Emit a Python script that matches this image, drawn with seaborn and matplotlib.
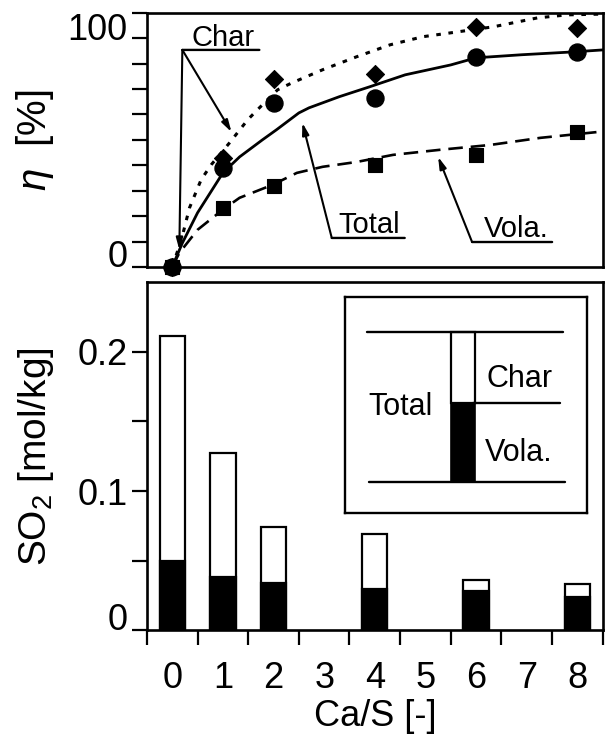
import numpy as np
import pandas as pd
import matplotlib
matplotlib.use('Agg')
import matplotlib.pyplot as plt
import seaborn as sns

# Ca/S ratio of the measured points
ca_s = [0, 1, 2, 4, 6, 8]
# desulfurization efficiency [%]
eta_char = [0, 43, 74, 76, 94.5, 94]
eta_total = [0, 39, 64.5, 66.5, 82.5, 84.5]
eta_vola = [0, 23, 32, 40, 44, 53]

# fitted curves
fit_x_total = [0, 0.2, 0.5, 1.0, 1.33, 1.78, 2.06, 2.5, 2.7, 3.3, 3.9, 4.6, 5.5, 6.0, 6.9, 7.9, 8.5]
fit_total = [0, 9.4, 21.3, 37, 43.3, 50, 54, 60.6, 62.6, 67, 70.9, 75.6, 79.5, 82.3, 83.5, 84.6, 85.4]
fit_x_char = [0, 0.18, 0.34, 0.57, 0.77, 1.13, 1.49, 1.68, 2.08, 2.36, 2.97, 3.64, 4.3, 4.95, 5.49, 6.34, 7.21, 7.8, 8.5]
fit_char = [0, 10.6, 23.2, 34.3, 40.2, 48.8, 57.9, 61.8, 69.7, 72.4, 77.6, 82.7, 87.4, 90.6, 92.1, 94.5, 98, 99.2, 99.5]
fit_x_vola = [0, 0.14, 0.5, 0.99, 1.33, 1.98, 2.46, 2.97, 3.64, 4.36, 5.29, 6.28, 7.27, 8.5]
fit_vola = [0, 5.5, 14.6, 22.4, 27.2, 32.3, 37, 39.4, 41.3, 44.1, 46.1, 48, 50.8, 53.3]

# SO2 emission [mol/kg]
bar_cats = ['0', '1', '2', '4', '6', '8']
cat_order = [str(i) for i in range(9)]
so2_total = [0.211, 0.127, 0.074, 0.069, 0.036, 0.033]
so2_vola = [0.050, 0.038, 0.034, 0.030, 0.028, 0.024]

# legend key bar (schematic)
key_vola = [0.365]
key_char = [0.329]

sns.set_style('ticks')
plt.rcParams['font.family'] = ['Liberation Sans', 'DejaVu Sans']
plt.rcParams['mathtext.fontset'] = 'custom'
plt.rcParams['mathtext.rm'] = 'Liberation Sans'
plt.rcParams['mathtext.it'] = 'Liberation Sans:italic'
plt.rcParams['axes.linewidth'] = 1.9
for k in ['axes.edgecolor', 'text.color', 'axes.labelcolor', 'xtick.color', 'ytick.color']:
    plt.rcParams[k] = 'black'

fig = plt.figure(figsize=(6.07, 7.54), dpi=100)
ax1 = fig.add_axes([0.242, 0.646, 0.751, 0.337])
ax2 = fig.add_axes([0.242, 0.164, 0.751, 0.462])

# ---- top: efficiency ----
sns.lineplot(x=fit_x_total, y=fit_total, ax=ax1, color='black', lw=2.0)
sns.lineplot(x=fit_x_char, y=fit_char, ax=ax1, color='black', lw=2.2, linestyle=(0, (1.5, 2.5)))
sns.lineplot(x=fit_x_vola, y=fit_vola, ax=ax1, color='black', lw=1.9, linestyle=(0, (5.5, 3)))
sns.scatterplot(x=ca_s, y=eta_char, ax=ax1, marker='D', s=85, color='black', edgecolor='black', zorder=3, clip_on=False)
sns.scatterplot(x=ca_s, y=eta_total, ax=ax1, marker='o', s=150, color='black', edgecolor='black', zorder=3, clip_on=False)
sns.scatterplot(x=ca_s, y=eta_vola, ax=ax1, marker='s', s=100, color='black', edgecolor='black', zorder=4, clip_on=False)

ax1.set_xlim(-0.5, 8.5)
ax1.set_ylim(0, 100)
ax1.set_xticks([])
ax1.set_yticks([0, 100])
ax1.set_yticks(np.arange(10, 100, 10), minor=True)
ax1.tick_params(axis='y', which='both', direction='out', length=11, width=1.6, labelsize=26, pad=3)
lbls = ax1.get_yticklabels()
lbls[0].set_va('baseline')
lbls[1].set_va('top')
ax1.set_ylabel(r'$\it{\eta}$  [%]', fontsize=29)
ax1.yaxis.set_label_coords(-0.2, 0.5)

arrow_kw = dict(arrowstyle='-|>,head_length=0.7,head_width=0.2', color='black', lw=1.5, shrinkA=0, shrinkB=0)
line_kw = dict(arrowstyle='-', color='black', lw=1.7, shrinkA=0, shrinkB=0)
# Char
ax1.annotate('', xy=(1.72, 85.4), xytext=(0.2, 85.4), arrowprops=line_kw)
ax1.annotate('', xy=(1.17, 53.1), xytext=(0.2, 85.4), arrowprops=arrow_kw)
ax1.annotate('', xy=(0.14, 6.7), xytext=(0.2, 85.4), arrowprops=arrow_kw)
ax1.text(1.0, 87, 'Char', fontsize=21, ha='center', va='baseline')
# Total
ax1.annotate('', xy=(4.59, 11.4), xytext=(3.15, 11.4), arrowprops=line_kw)
ax1.annotate('', xy=(2.57, 56.7), xytext=(3.15, 11.4), arrowprops=arrow_kw)
ax1.text(3.88, 13.4, 'Total', fontsize=21, ha='center', va='baseline')
# Vola.
ax1.annotate('', xy=(7.5, 9.8), xytext=(5.92, 9.8), arrowprops=line_kw)
ax1.annotate('', xy=(5.25, 43.3), xytext=(5.92, 9.8), arrowprops=arrow_kw)
ax1.text(6.8, 11.8, 'Vola.', fontsize=21, ha='center', va='baseline')

# ---- bottom: SO2 emission ----
sns.barplot(x=bar_cats, y=so2_total, order=cat_order, ax=ax2, color='white',
            edgecolor='black', linewidth=1.6, width=0.5, saturation=1)
sns.barplot(x=bar_cats, y=so2_vola, order=cat_order, ax=ax2, color='black',
            edgecolor='black', linewidth=1.6, width=0.5, saturation=1)

ax2.set_xlim(-0.5, 8.5)
ax2.set_ylim(0, 0.25)
ax2.set_yticks([0, 0.1, 0.2])
ax2.set_yticklabels(['0', '0.1', '0.2'])
ax2.set_yticks([0.05, 0.15], minor=True)
ax2.set_xticks(np.arange(-0.5, 9, 1), minor=True)
ax2.tick_params(axis='x', which='major', length=0, labelsize=26, pad=22)
ax2.tick_params(axis='x', which='minor', direction='out', length=11, width=1.6)
ax2.tick_params(axis='y', which='both', direction='out', length=11, width=1.6, labelsize=26, pad=3)
ax2.get_yticklabels()[0].set_va('baseline')
ax2.set_xlabel('Ca/S [-]', fontsize=26, labelpad=2)
ax2.set_ylabel('SO$_2$ [mol/kg]', fontsize=28)
ax2.yaxis.set_label_coords(-0.2, 0.5)

# inset key
axk = fig.add_axes([0.568, 0.3196, 0.399, 0.2865])
axk.set_xlim(0, 1)
axk.set_ylim(0, 1)
axk.set_xticks([])
axk.set_yticks([])
for s in axk.spines.values():
    s.set_linewidth(1.7)
axk.bar([0.488], key_vola, bottom=0.144, width=0.1, color='black', edgecolor='black', lw=1.2)
axk.bar([0.488], key_char, bottom=0.144 + key_vola[0], width=0.1, color='white', edgecolor='black', lw=1.6)
axk.plot([0.09, 0.9], [0.838, 0.838], color='black', lw=1.7)
axk.plot([0.53, 0.89], [0.509, 0.509], color='black', lw=1.7)
axk.plot([0.1, 0.91], [0.144, 0.144], color='black', lw=1.7)
axk.text(0.23, 0.49, 'Total', fontsize=22, ha='center', va='center')
axk.text(0.72, 0.62, 'Char', fontsize=22, ha='center', va='center')
axk.text(0.72, 0.28, 'Vola.', fontsize=22, ha='center', va='center')

fig.savefig('out.png', dpi=100)
